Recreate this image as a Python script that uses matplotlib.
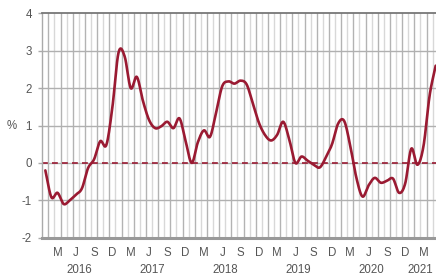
import numpy as np
import matplotlib
matplotlib.use("Agg")
import matplotlib.pyplot as plt
from matplotlib.transforms import blended_transform_factory

plt.rcParams['font.family'] = ['Liberation Sans', 'DejaVu Sans']

# Monthly values, Jan 2016 .. May 2021 (%)
values = [-0.2, -0.92, -0.8, -1.1, -1.0, -0.85, -0.68, -0.14, 0.1, 0.58, 0.48, 1.5,
          2.95, 2.85, 2.0, 2.3, 1.66, 1.15, 0.93, 0.98, 1.1, 0.93, 1.19, 0.58,
          0.0, 0.55, 0.87, 0.7, 1.35, 2.05, 2.18, 2.12, 2.2, 2.1, 1.6, 1.08,
          0.75, 0.6, 0.75, 1.1, 0.62, 0.0, 0.17, 0.06, -0.05, -0.12, 0.15, 0.5,
          1.05, 1.12, 0.45, -0.4, -0.9, -0.6, -0.4, -0.53, -0.48, -0.42, -0.8, -0.55,
          0.38, -0.05, 0.45, 1.8, 2.6]
month_letters = ["M", "J", "S", "D"]
month_offsets = [2, 5, 8, 11]
years = ["2016", "2017", "2018", "2019", "2020", "2021"]
year_centers = [5.5, 17.5, 29.5, 41.5, 53.5, 61.5]
yticks = [-2, -1, 0, 1, 2, 3, 4]

RED = "#9a1a32"
TXT = "#555555"
FS = 8.3


def catmull_rom(x, y, n=16):
    x = np.asarray(x, float)
    y = np.asarray(y, float)
    xp = np.concatenate([[2 * x[0] - x[1]], x, [2 * x[-1] - x[-2]]])
    yp = np.concatenate([[2 * y[0] - y[1]], y, [2 * y[-1] - y[-2]]])
    xs, ys = [], []
    for i in range(1, len(xp) - 2):
        t = np.linspace(0, 1, n, endpoint=False)
        p0, p1, p2, p3 = yp[i - 1], yp[i], yp[i + 1], yp[i + 2]
        yy = 0.5 * ((2 * p1) + (-p0 + p2) * t + (2 * p0 - 5 * p1 + 4 * p2 - p3) * t ** 2
                    + (-p0 + 3 * p1 - 3 * p2 + p3) * t ** 3)
        xx = xp[i] + (xp[i + 1] - xp[i]) * t
        xs.append(xx)
        ys.append(yy)
    xs.append([x[-1]])
    ys.append([y[-1]])
    return np.concatenate(xs), np.concatenate(ys)


fig = plt.figure(figsize=(4.36, 2.78), dpi=100)
ax = fig.add_axes([0.097, 0.145, 0.903, 0.807])

months = np.arange(len(values))
ax.set_xlim(-0.5, 64.05)
ax.set_ylim(-2, 4)

# vertical month grid (alternating shades)
for k in range(1, len(values) + 1):
    col = "#b3b3b3" if k % 2 == 1 else "#d8d8d8"
    ax.axvline(k - 0.5, color=col, lw=1.0, zorder=1)
# horizontal grid
for v in yticks:
    if v in (-2, 4):
        continue
    ax.axhline(v, color="#b0b0b0", lw=1.0, zorder=1)

ax.axhline(0, color=RED, lw=1.2, ls=(0, (3.5, 2.5)), zorder=2)

sx, sy = catmull_rom(months, values)
ax.plot(sx, sy, color=RED, lw=1.9, solid_capstyle="round", zorder=3)

ax.spines["right"].set_visible(False)
ax.spines["top"].set_color("#777777")
ax.spines["top"].set_linewidth(1.3)
ax.spines["bottom"].set_color("#999999")
ax.spines["bottom"].set_linewidth(2.2)
ax.spines["left"].set_color("#aaaaaa")
ax.spines["left"].set_linewidth(1.0)

ax.set_yticks(yticks)
ax.set_yticklabels([str(v) for v in yticks])
ax.tick_params(axis="y", length=3, width=1, color="#aaaaaa", pad=4.5,
               labelsize=FS, labelcolor=TXT)

xpos, xlab = [], []
for yi in range(len(years)):
    for off, lab in zip(month_offsets, month_letters):
        m = 12 * yi + off
        if m < len(values):
            xpos.append(m)
            xlab.append(lab)
ax.set_xticks(xpos)
ax.set_xticklabels(xlab)
ax.tick_params(axis="x", length=0, pad=7, labelsize=FS, labelcolor=TXT)

tr = blended_transform_factory(ax.transData, ax.transAxes)
for yc, yl in zip(year_centers, years):
    ax.text(yc, -0.145, yl, transform=tr, ha="center", va="center",
            fontsize=FS, color=TXT)

fig.text(12 / 436, 1 - 126 / 278, "%", ha="center", va="center",
         fontsize=FS, color=TXT)

fig.savefig("out.png", dpi=100)
